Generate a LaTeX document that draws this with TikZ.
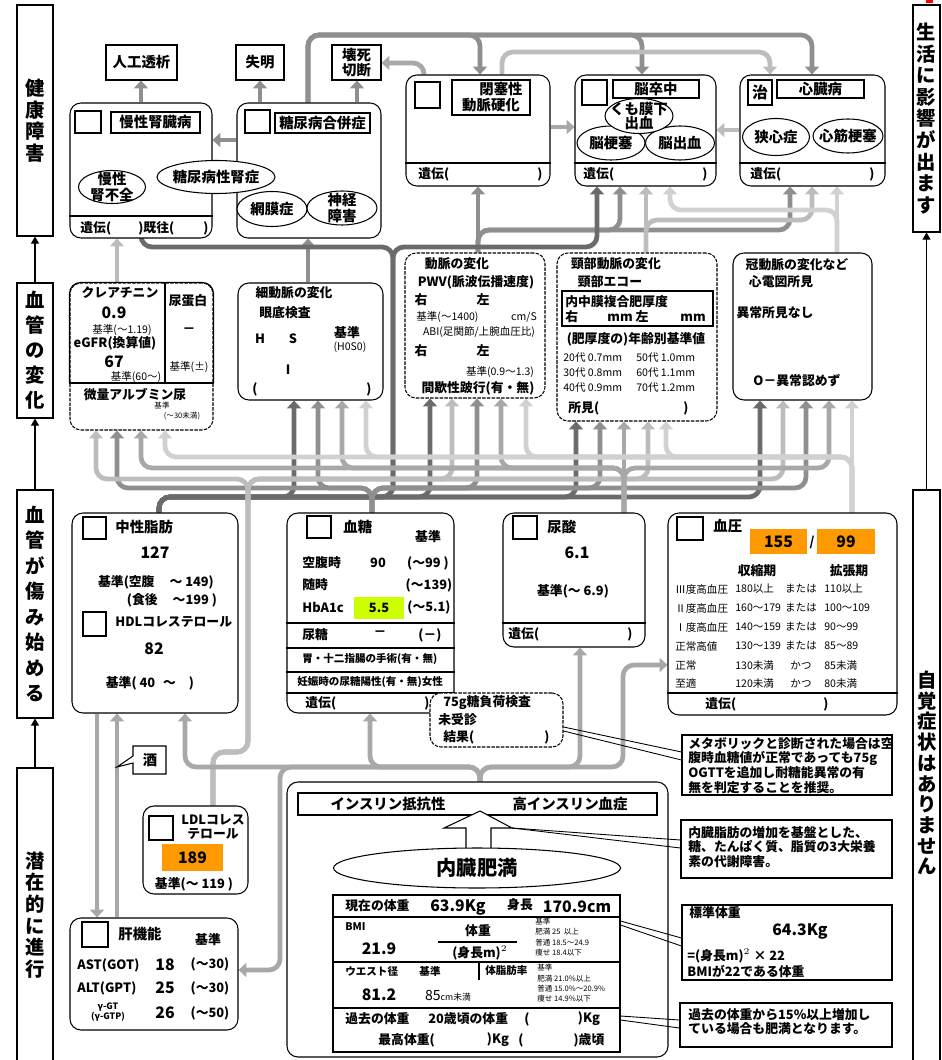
\documentclass[tikz,border=0pt]{standalone}
\usepackage{fontspec}
\setmainfont{Noto Sans CJK JP}
\usetikzlibrary{arrows.meta,fit,shapes.geometric,backgrounds}
\definecolor{pa}{gray}{0.42}
\definecolor{pb}{gray}{0.56}
\definecolor{pc}{gray}{0.66}
\definecolor{pd}{gray}{0.74}
\definecolor{pe}{gray}{0.82}
\definecolor{hlorange}{RGB}{255,153,0}
\definecolor{hlgreen}{RGB}{204,255,0}
\tikzset{
  box/.style={draw, rounded corners=0.22cm, line width=0.6pt, inner sep=0pt, fill=white},
  dbox/.style={box, dash pattern=on 2pt off 0.7pt},
  sqbox/.style={draw, line width=0.6pt, inner sep=0pt, fill=white},
  oval/.style={draw, ellipse, line width=0.6pt, inner sep=0pt, fill=white},
  txt/.style={inner sep=0pt, font=\fontsize{7.3}{8.3}\selectfont\bfseries},
  ttl/.style={inner sep=0pt, font=\fontsize{8.2}{9}\selectfont\bfseries},
  tsm/.style={inner sep=0pt, font=\fontsize{6}{6.8}\selectfont},
  tmini/.style={inner sep=0pt, font=\fontsize{4.3}{5}\selectfont},
  tbig/.style={inner sep=0pt, font=\fontsize{9}{10}\selectfont\bfseries},
  sidetxt/.style={inner sep=0pt, align=center, font=\fontsize{11}{12.3}\selectfont\bfseries},
  sidearr/.style={line width=0.6pt, -{Triangle[length=4pt,width=4.5pt]}},
  pipe/.style={line width=2.7pt, rounded corners=0.22cm, -{Triangle[length=4.5pt,width=8pt]}},
  tie/.style={line width=0.5pt},
}
\begin{document}
\begin{tikzpicture}[x=0.02cm, y=-0.02cm]
\useasboundingbox (0,0) rectangle (941,1060);

% side labels
\node[sqbox, fit={(17,5) (53,236)}] (hlth) {};
\node[sidetxt] (hlthtx) at (hlth.center) {健\\康\\障\\害};
\node[sqbox, fit={(17,283) (53,418)}] (vasc) {};
\node[sidetxt, font=\fontsize{11}{14.2}\selectfont\bfseries] (vasctx) at (vasc.center) {血\\管\\の\\変\\化};
\node[sqbox, fit={(17,490) (53,718)}] (dmg) {};
\node[sidetxt, font=\fontsize{11}{14.5}\selectfont\bfseries] (dmgtx) at (dmg.center) {血\\管\\が\\傷\\み\\始\\め\\る};
\node[sqbox, fit={(17,768) (53,1064)}] (lat) {};
\node[sidetxt] (lattx) at (35,915) {潜\\在\\的\\に\\進\\行};
\node[sqbox, fit={(913,5) (940,232)}] (life) {};
\node[sidetxt] (lifetx) at (life.center) {生\\活\\に\\影\\響\\が\\出\\ま\\す};
\node[sqbox, fit={(913,490) (940,1064)}] (nosym) {};
\node[sidetxt, font=\fontsize{11}{11.8}\selectfont\bfseries] (nosymtx) at (927,773) {自\\覚\\症\\状\\は\\あ\\り\\ま\\せ\\ん};
\draw[sidearr] (vasc.north) -- (hlth.south);
\draw[sidearr] (dmg.north) -- (vasc.south);
\draw[sidearr] (lat.north) -- (dmg.south);
\draw[sidearr] (nosym.north) -- (life.south);
\fill[red] (926,0) rectangle (933,3);

% outcomes
\node[sqbox, fit={(106,45) (177,80)}] (dial) {};
\node[ttl] (dialtx) at (dial.center) {人工透析};
\node[sqbox, fit={(236,45) (284,80)}] (blind) {};
\node[ttl] (blindtx) at (blind.center) {失明};
\node[sqbox, fit={(332,45) (381,80)}] (necro) {};
\node[ttl, align=center] (necrotx) at (necro.center) {壊死\\切断};

% chronic kidney disease
\node[box, fit={(70,103) (212,238)}] (ckd) {};
\node[sqbox, fit={(75,111) (101,133)}] (ckdchk) {};
\node[sqbox, fit={(111,112) (200,133)}] (ckdttl) {};
\node[ttl] (ckdname) at (ckdttl.center) {慢性腎臓病};
\draw[line width=0.6pt] (ckd.west |- 0,216) -- (ckd.east |- 0,216);
\node[oval, minimum width=1.34cm, minimum height=0.66cm] (ckdfail) at (112,187) {};
\node[ttl, align=center] (ckdfailtx) at (ckdfail.center) {慢性\\腎不全};
\node[txt, anchor=west] (ckdgen) at (80,228) {遺伝(};
\node[txt, anchor=west] (ckdhis) at (138,228) {)既往(};
\node[txt] (ckdend) at (206,228) {)};

% diabetic complications
\node[box, fit={(237,103) (381,238)}] (dm) {};
\node[sqbox, fit={(245,110) (270,133)}] (dmchk) {};
\node[sqbox, fit={(275,113) (370,133)}] (dmttl) {};
\node[ttl] (dmname) at (dmttl.center) {糖尿病合併症};
\node[oval, minimum width=2.36cm, minimum height=0.66cm] (dmneph) at (216,177) {};
\node[ttl] (dmnephtx) at (dmneph.center) {糖尿病性腎症};
\node[oval, minimum width=1.4cm, minimum height=0.7cm] (dmret) at (272,209) {};
\node[ttl] (dmrettx) at (dmret.center) {網膜症};
\node[oval, minimum width=1.4cm, minimum height=0.68cm] (dmneu) at (342,208) {};
\node[ttl, align=center] (dmneutx) at (dmneu.center) {神経\\障害};

% arteriosclerosis obliterans
\node[box, fit={(406,75) (550,186)}] (ao) {};
\node[sqbox, fit={(415,82) (440,108)}] (aochk) {};
\node[sqbox, fit={(452,80) (530,115)}] (aottl) {};
\node[ttl, align=center] (aoname) at (aottl.center) {\hspace{4mm}閉塞性\\動脈硬化};
\draw[line width=0.6pt] (ao.west |- 0,163) -- (ao.east |- 0,163);
\node[txt, anchor=west] (aogen) at (418,174) {遺伝(};
\node[txt] (aoend) at (540,174) {)};

% stroke
\node[box, fit={(575,75) (716,186)}] (st) {};
\node[sqbox, fit={(582,80) (607,105)}] (stchk) {};
\node[sqbox, fit={(613,80) (699,98)}] (stttl) {};
\node[ttl] (stname) at (stttl.center) {脳卒中};
\node[oval, minimum width=1.36cm, minimum height=0.68cm] (stinf) at (611,143) {};
\node[ttl] (stinftx) at (stinf.center) {脳梗塞};
\node[oval, minimum width=1.38cm, minimum height=0.68cm] (stbleed) at (680,143) {};
\node[ttl] (stbleedtx) at (stbleed.center) {脳出血};
\node[oval, minimum width=1.36cm, minimum height=0.7cm] (stsah) at (639,116) {};
\node[ttl, align=center, font=\fontsize{8.2}{8.2}\selectfont\bfseries] (stsahtx) at (stsah.center) {くも膜下\\出血};
\draw[line width=0.6pt] (st.west |- 0,163) -- (st.east |- 0,163);
\node[txt, anchor=west] (stgen) at (583,174) {遺伝(};
\node[txt] (stend) at (705,174) {)};

% heart disease
\node[box, fit={(740,75) (885,186)}] (hd) {};
\node[sqbox, fit={(748,80) (772,105)}] (hdchk) {};
\node[tbig] (hdchktx) at (hdchk.center) {治};
\node[sqbox, fit={(777,80) (864,98)}] (hdttl) {};
\node[ttl] (hdname) at (hdttl.center) {心臓病};
\node[oval, minimum width=1.34cm, minimum height=0.74cm] (hdang) at (776,137) {};
\node[ttl] (hdangtx) at (hdang.center) {狭心症};
\node[oval, minimum width=1.4cm, minimum height=0.68cm] (hdmi) at (848,136) {};
\node[ttl] (hdmitx) at (hdmi.center) {心筋梗塞};
\draw[line width=0.6pt] (hd.west |- 0,163) -- (hd.east |- 0,163);
\node[txt, anchor=west] (hdgen) at (750,174) {遺伝(};
\node[txt] (hdend) at (872,174) {)};

% creatinine
\node[dbox, fit={(70,283) (213,430)}] (crea) {};
\draw[line width=0.6pt, rounded corners=0.22cm] (crea.west |- 0,383) -- (crea.north west) -- (crea.north east) -- (crea.east |- 0,383);
\draw[line width=0.6pt] (crea.west |- 0,383) -- (crea.east |- 0,383);
\draw[line width=0.6pt] (165,0 |- crea.north) -- (165,383);
\node[txt] (creaname) at (120,293) {クレアチニン};
\node[tbig] (creaval) at (114,313) {0.9};
\node[tsm] (crearef) at (122,330) {基準(～1.19)};
\node[txt] (egfr) at (115,343) {eGFR(換算値)};
\node[tbig] (egfrval) at (114,362) {67};
\node[tsm] (egfrref) at (136,377) {基準(60～)};
\node[txt] (prot) at (188,301) {尿蛋白};
\node[txt] (protval) at (189,331) {－};
\node[tsm] (protref) at (189,367) {基準(±)};
\node[txt] (malb) at (135,395) {微量アルブミン尿};
\node[tmini] (malbref) at (162,406) {基準};
\node[tmini] (malbrange) at (182,416) {(～30未満)};

% fundus
\node[box, fit={(238,283) (383,400)}] (hos) {};
\node[txt] (hosname) at (294,293) {細動脈の変化};
\node[txt] (hosexam) at (285,313) {眼底検査};
\node[txt] (hosh) at (260,339) {H};
\node[txt] (hoss) at (293,339) {S};
\node[txt] (hosref) at (347,333) {基準};
\node[tsm] (hosrefv) at (350,347) {(H0S0)};
\node[txt] (hosi) at (288,370) {I};
\node[txt] (hoso) at (255,389) {(};
\node[txt] (hosc) at (369,389) {)};

% arterial stiffness
\node[dbox, fit={(405,253) (545,398)}] (art) {};
\node[txt] (artname) at (457,264) {動脈の変化};
\node[txt] (artpwv) at (476,282) {PWV(脈波伝播速度)};
\node[txt] (artr) at (421,300) {右};
\node[txt] (artl) at (483,300) {左};
\node[tsm, anchor=west] (artref) at (416,317) {基準(～1400)};
\node[tsm] (artunit) at (524,317) {cm/S};
\node[tsm] (artabi) at (479,332) {ABI(足関節/上腕血圧比)};
\node[txt] (artr2) at (421,351) {右};
\node[txt] (artl2) at (483,351) {左};
\node[tsm] (artref2) at (500,372) {基準(0.9～1.3)};
\node[txt] (artclaud) at (478,388) {間歇性跛行(有・無)};

% carotid
\node[dbox, fit={(557,253) (717,421)}] (car) {};
\node[txt] (carname) at (616,264) {頸部動脈の変化};
\node[txt] (carecho) at (610,282) {頸部エコー};
\node[sqbox, fit={(562,291) (713,326)}] (carimt) {};
\node[txt, anchor=west] (carimttx) at (565,302) {内中膜複合肥厚度};
\node[txt, anchor=west] (carr) at (565,317) {右};
\node[txt] (carmm1) at (620,318) {mm};
\node[txt] (carl) at (642,317) {左};
\node[txt] (carmm2) at (693,318) {mm};
\node[txt] (carage) at (636,339) {(肥厚度の)年齢別基準値};
\node[tsm, anchor=west] (car20) at (563,358) {20代 0.7mm};
\node[tsm, anchor=west] (car50) at (636,358) {50代 1.0mm};
\node[tsm, anchor=west] (car30) at (563,373) {30代 0.8mm};
\node[tsm, anchor=west] (car60) at (636,373) {60代 1.1mm};
\node[tsm, anchor=west] (car40) at (563,388) {40代 0.9mm};
\node[tsm, anchor=west] (car70) at (636,388) {70代 1.2mm};
\node[txt, anchor=west] (carobs) at (568,408) {所見(};
\node[txt] (carend) at (686,408) {)};

% coronary
\node[box, fit={(733,253) (872,400)}] (cor) {};
\node[txt] (corname) at (797,265) {冠動脈の変化など};
\node[txt] (corecg) at (781,282) {心電図所見};
\node[txt] (cornone) at (775,313) {異常所見なし};
\node[txt] (corzero) at (797,381) {O－異常認めず};

% triglyceride / HDL
\node[box, fit={(72,513) (238,713)}] (tg) {};
\node[sqbox, fit={(83,517) (106,539)}] (tgchk) {};
\node[ttl, anchor=west] (tgname) at (115,527) {中性脂肪};
\node[tbig] (tgval) at (155,553) {127};
\node[txt] (tgref) at (156,582) {基準(空腹\hspace{3mm}～ 149)};
\node[txt] (tgref2) at (172,600) {(食後\hspace{3mm}～199 )};
\node[sqbox, fit={(83,612) (106,636)}] (hdlchk) {};
\node[txt, anchor=west] (hdlname) at (115,622) {HDLコレステロール};
\node[tbig] (hdlval) at (154,649) {82};
\node[txt] (hdlref) at (150,683) {基準( 40 \hspace{1mm}～\hspace{2mm} )};

% blood glucose
\node[box, fit={(287,513) (454,713)}] (bs) {};
\node[sqbox, fit={(307,516) (331,538)}] (bschk) {};
\node[ttl, anchor=west] (bsname) at (343,527) {血糖};
\node[txt] (bsref) at (428,537) {基準};
\node[txt, anchor=west] (bsfast) at (302,563) {空腹時};
\node[txt] (bsfastv) at (378,563) {90};
\node[txt] (bsfastr) at (428,563) {(～99 )};
\node[txt, anchor=west] (bsrand) at (302,585) {随時};
\node[txt] (bsrandr) at (429,585) {(～139)};
\node[txt, anchor=west] (bsa1c) at (302,607) {HbA1c};
\node[fill=hlgreen, inner sep=0pt, fit={(354,597) (404,619)}] (bsa1cbg) {};
\node[txt] (bsa1cv) at (bsa1cbg.center) {5.5};
\node[txt] (bsa1cr) at (429,607) {(～5.1)};
\draw[line width=0.6pt] (bs.west |- 0,623) -- (bs.east |- 0,623);
\node[txt, anchor=west] (bsurine) at (302,635) {尿糖};
\node[txt] (bsurinev) at (380,634) {－};
\node[txt] (bsuriner) at (430,635) {(－)};
\draw[line width=0.6pt] (bs.west |- 0,648) -- (bs.east |- 0,648);
\node[tsm, anchor=west, font=\fontsize{6}{6.8}\selectfont\bfseries] (bsop) at (302,659) {胃・十二指腸の手術(有・無)};
\draw[line width=0.6pt] (bs.west |- 0,672) -- (bs.east |- 0,672);
\node[tsm, anchor=west, font=\fontsize{6}{6.8}\selectfont\bfseries] (bspreg) at (297,682) {妊娠時の尿糖陽性(有・無)女性};
\draw[line width=0.6pt] (bs.west |- 0,693) -- (bs.east |- 0,693);
\node[txt, anchor=west] (bsgen) at (305,703) {遺伝(};
\node[txt] (bsend) at (427,703) {)};

% glucose tolerance test
\node[dbox, fit={(430,693) (563,747)}] (ogtt) {};
\node[txt, anchor=west] (ogttname) at (443,703) {75g糖負荷検査};
\node[txt, anchor=west] (ogttno) at (438,720) {未受診};
\node[txt, anchor=west] (ogttres) at (443,737) {結果(};
\node[txt] (ogttend) at (547,737) {)};

% uric acid
\node[box, fit={(503,513) (645,647)}] (ua) {};
\node[sqbox, fit={(513,516) (537,539)}] (uachk) {};
\node[ttl, anchor=west] (uaname) at (547,527) {尿酸};
\node[tbig] (uaval) at (577,553) {6.1};
\node[txt] (uaref) at (573,591) {基準(～ 6.9)};
\draw[line width=0.6pt] (ua.west |- 0,623) -- (ua.east |- 0,623);
\node[txt, anchor=west] (uagen) at (508,634) {遺伝(};
\node[txt] (uaend) at (630,634) {)};

% blood pressure
\node[box, fit={(668,513) (897,715)}] (bp) {};
\node[sqbox, fit={(677,517) (703,540)}] (bpchk) {};
\node[ttl, anchor=west] (bpname) at (713,526) {血圧};
\node[fill=hlorange, inner sep=0pt, fit={(750,529) (807,554)}] (bpsys) {};
\node[tbig] (bpsysv) at (bpsys.center) {155};
\node[txt] (bpslash) at (812,542) {/};
\node[fill=hlorange, inner sep=0pt, fit={(817,529) (875,554)}] (bpdia) {};
\node[tbig] (bpdiav) at (bpdia.center) {99};
\node[txt] (bpsyshd) at (757,571) {収縮期};
\node[txt] (bpdiahd) at (849,571) {拡張期};
\foreach \yy/\la/\lb/\lc/\ld in {589/Ⅲ度高血圧/180以上/または/110以上,
    608/Ⅱ度高血圧/160～179/または/100～109,
    627/Ⅰ度高血圧/140～159/または/90～99,
    646/正常高値/130～139/または/85～89,
    665/正常/130未満/かつ/85未満,
    683/至適/120未満/かつ/80未満}{
  \node[tsm, anchor=west] (bpa\yy) at (675,\yy) {\la};
  \node[tsm, anchor=west] (bpb\yy) at (735,\yy) {\lb};
  \node[tsm] (bpc\yy) at (801,\yy) {\lc};
  \node[tsm, anchor=west] (bpd\yy) at (824,\yy) {\ld};
}
\draw[line width=0.6pt] (bp.west |- 0,693) -- (bp.east |- 0,693);
\node[txt, anchor=west] (bpgen) at (705,704) {遺伝(};
\node[txt] (bpend) at (826,704) {)};

% LDL
\node[box, fit={(143,806) (248,894)}] (ldl) {};
\node[sqbox, fit={(149,816) (173,840)}] (ldlchk) {};
\node[txt, align=center, font=\fontsize{7.3}{7.6}\selectfont\bfseries] (ldlname) at (213,827) {LDLコレス\\テロール};
\node[fill=hlorange, inner sep=0pt, fit={(162,844) (223,871)}] (ldlbg) {};
\node[tbig] (ldlval) at (ldlbg.center) {189};
\node[txt] (ldlref) at (194,884) {基準(～ 119 )};

% alcohol
\draw[line width=0.6pt, fill=white] (133,746) -- (166,746) -- (166,774) -- (133,774) -- (133,763) -- (117,767) -- (133,756) -- cycle;
\node[ttl] (sake) at (150,760) {酒};

% liver
\node[box, fit={(70,918) (238,1030)}] (liver) {};
\node[sqbox, fit={(82,922) (108,947)}] (liverchk) {};
\node[ttl, anchor=west] (livername) at (118,934) {肝機能};
\node[txt] (liverref) at (208,940) {基準};
\node[txt, anchor=west] (ast) at (77,965) {AST(GOT)};
\node[tbig] (astv) at (165,965) {18};
\node[txt] (astr) at (210,964) {(～30)};
\node[txt, anchor=west] (alt) at (77,988) {ALT(GPT)};
\node[tbig] (altv) at (165,988) {25};
\node[txt] (altr) at (210,988) {(～30)};
\node[tsm, align=center, font=\fontsize{5}{5.8}\selectfont\bfseries] (ggt) at (108,1012) {γ-GT\\(γ-GTP)};
\node[tbig] (ggtv) at (165,1013) {26};
\node[txt] (ggtr) at (210,1013) {(～50)};

% visceral obesity
\node[box, fit={(287,782) (668,1057)}] (metab) {};
\node[sqbox, fit={(298,793) (657,815)}] (insul) {};
\node[ttl] (insres) at (388,804) {インスリン抵抗性};
\node[ttl] (hyperins) at (570,804) {高インスリン血症};
\draw[line width=0.6pt, fill=white] (480,811) -- (512,828) -- (491,828) -- (491,852) -- (466,852) -- (466,828) -- (444,828) -- cycle;
\coordinate (uptip) at (512,828);
\node[oval, minimum width=5.74cm, minimum height=0.8cm] (visc) at (477,868) {};
\node[inner sep=0pt, font=\fontsize{11.5}{12}\selectfont\bfseries] (visctx) at (visc.center) {内臓肥満};
\node[sqbox, fit={(333,895) (620,1052)}] (tbl) {};
\draw[line width=0.6pt] (tbl.west |- 0,917) -- (tbl.east |- 0,917);
\draw[line width=0.6pt] (tbl.west |- 0,962) -- (tbl.east |- 0,962);
\draw[line width=0.6pt] (tbl.west |- 0,1008) -- (tbl.east |- 0,1008);
\node[txt, anchor=west] (nowwt) at (345,906) {現在の体重};
\node[tbig] (nowwtv) at (458,907) {63.9Kg};
\node[txt] (height) at (520,905) {身長};
\node[tbig] (heightv) at (577,907) {170.9cm};
\node[tsm, anchor=west, font=\fontsize{6}{6.8}\selectfont\bfseries] (bmi) at (345,927) {BMI};
\node[tbig] (bmiv) at (379,949) {21.9};
\node[txt] (bmitop) at (478,931) {体重};
\draw[line width=0.6pt] (438,942) -- (517,942);
\node[txt] (bmibot) at (480,953) {(身長m)$^2$};
\node[tmini, anchor=west] (bmir0) at (535,922) {基準};
\node[tmini, anchor=west] (bmir1) at (535,932) {肥満 25 \ 以上};
\node[tmini, anchor=west] (bmir2) at (535,943) {普通 18.5～24.9};
\node[tmini, anchor=west] (bmir3) at (535,953) {痩せ 18.4以下};
\node[tsm, anchor=west, font=\fontsize{6}{6.8}\selectfont\bfseries] (waist) at (345,971) {ウエスト径};
\node[tsm, font=\fontsize{6}{6.8}\selectfont\bfseries] (waistref) at (430,971) {基準};
\draw[line width=0.6pt] (479,962) -- (479,980);
\node[tsm, anchor=west, font=\fontsize{6}{6.8}\selectfont\bfseries] (fat) at (485,971) {体脂肪率};
\node[tmini, anchor=west] (fatr0) at (537,968) {基準};
\node[tmini, anchor=west] (fatr1) at (537,979) {肥満 21.0\%以上};
\node[tmini, anchor=west] (fatr2) at (537,989) {普通 15.0\%～20.9\%};
\node[tmini, anchor=west] (fatr3) at (537,999) {痩せ 14.9\%以下};
\node[tbig] (waistv) at (379,995) {81.2};
\node[inner sep=0pt] (waistlim) at (448,996) {{\fontsize{8}{9}\selectfont 85}{\fontsize{5}{6}\selectfont cm未満}};
\node[txt, anchor=west] (pastwt) at (345,1019) {過去の体重};
\node[txt, anchor=west] (wt20) at (428,1019) {20歳頃の体重};
\node[txt] (wt20o) at (527,1019) {(};
\node[txt] (wt20c) at (589,1019) {)Kg};
\node[txt, anchor=west] (maxwt) at (378,1040) {最高体重(};
\node[txt] (maxwtc) at (498,1040) {)Kg};
\node[txt] (maxageo) at (521,1040) {(};
\node[txt] (maxagec) at (589,1040) {)歳頃};

% notes
\node[sqbox, fit={(682,735) (892,795)}] (note1) {};
\node[txt, anchor=north west, align=left] (note1tx) at (688,737) {メタボリックと診断された場合は空\\腹時血糖値が正常であっても75g\\OGTTを追加し耐糖能異常の有\\無を判定することを推奨。};
\node[sqbox, fit={(681,820) (892,878)}] (note2) {};
\node[txt, anchor=north west, align=left] (note2tx) at (688,826) {内臓脂肪の増加を基盤とした、\\糖、たんぱく質、脂質の3大栄養\\素の代謝障害。};
\node[sqbox, fit={(682,905) (892,980)}] (note3) {};
\node[txt, anchor=west] (note3a) at (689,913) {標準体重};
\node[tbig] (note3b) at (800,931) {64.3Kg};
\node[txt, anchor=west] (note3c) at (687,956) {=(身長m)$^2$ × 22};
\node[txt, anchor=west] (note3d) at (687,971) {BMIが22である体重};
\node[sqbox, fit={(680,1003) (892,1047)}] (note4) {};
\node[txt, anchor=north west, align=left] (note4tx) at (688,1008) {過去の体重から15\%以上増加し\\ている場合も肥満となります。};
\draw[tie] (ogtt.east |- 0,727) -- (note1.west |- 0,752);
\draw[tie] (ogtt.east |- 0,731) -- (note1.west |- 0,760);
\draw[tie] (uptip) -- (note2.west |- 0,840);
\draw[tie] (uptip) -- (note2.west |- 0,848);
\draw[tie] (tbl.east |- 0,921) -- (note3.west |- 0,938);
\draw[tie] (tbl.east |- 0,925) -- (note3.west |- 0,946);
\draw[tie] (tbl.east |- 0,1016) -- (note4.west |- 0,1020);
\draw[tie] (tbl.east |- 0,1020) -- (note4.west |- 0,1028);

\begin{pgfonlayer}{background}
  % outcomes
  \draw[pipe,pb] (ckd.north -| 141,0) -- (dial.south -| 141,0);
  \draw[pipe,pb] (dm.north -| 260,0) -- (blind.south -| 260,0);
  \draw[pipe,pb] (dm.north -| 357,0) -- (necro.south -| 357,0);
  \draw[pipe,pc] (ao.north -| 424,0) -- (424,63) -- (necro.east |- 0,63);
  \foreach \tx/\tn in {480/ao,642/st,812/hd}
    \draw[pipe,pb] (dm.north -| 308,0) -- (308,35) -- (\tx,35) -- (\tn.north -| \tx,0);
  \draw[pipe,pd] (ao.north -| 502,0) -- (502,52) -- (770,52) -- (hd.north -| 770,0);
  \draw[pipe,pc] (ao.east |- 0,127) -- (st.west |- 0,127);
  \draw[pipe,pd] (hd.west |- 0,130) -- (st.east |- 0,130);
  \draw[pipe,pb] (dm.west |- 0,140) -- (ckd.east |- 0,140);
  % vessel changes -> diseases
  \draw[pipe,pd] (crea.north -| 117,0) -- (ckd.south -| 117,0);
  \draw[pipe,pb] (hos.north -| 308,0) -- (dm.south -| 308,0);
  \draw[pipe,pb] (art.north -| 478,0) -- (ao.south -| 478,0);
  \draw[pipe,pb] (art.north -| 478,0) -- (478,230) -- (620,230) -- (st.south -| 620,0);
  \draw[pipe,pb] (art.north -| 478,0) -- (478,230) -- (790,230) -- (hd.south -| 790,0);
  \draw[pipe,pd] (car.north -| 646,0) -- (st.south -| 646,0);
  \draw[pipe,pd] (car.north -| 646,0) -- (646,220) -- (812,220) -- (hd.south -| 812,0);
  \draw[pipe,pe] (cor.north -| 837,0) -- (hd.south -| 837,0);
  \draw[pipe,pe] (cor.north -| 837,0) -- (837,210) -- (670,210) -- (st.south -| 670,0);
  % risk factors -> vessel changes
  \draw[pipe,pa] (tg.north -| 159,0) -- (159,497) -- (393,497) -- (393,247) -- (141,247) -- (ckd.south -| 141,0);
  \draw[pipe,pa] (tg.north -| 159,0) -- (159,497) -- (393,497) -- (393,247) -- (597,247) -- (st.south -| 597,0);
  \foreach \tx/\tn in {294/hos,430/art,576/car,760/cor}
    \draw[pipe,pa] (tg.north -| 159,0) -- (159,497) -- (\tx,497) -- (\tn.south -| \tx,0);
  \foreach \tx/\tn in {117/crea,318/hos,477/art,600/car,806/cor}
    \draw[pipe,pb] (bs.north -| 372,0) -- (372,488) -- (\tx,488) -- (\tn.south -| \tx,0);
  \foreach \tx/\tn in {96/crea,452/art,648/car,783/cor}
    \draw[pipe,pd] (ldl.north -| 213,0) -- (213,752) -- (248,752) -- (248,479) -- (\tx,479) -- (\tn.south -| \tx,0);
  \foreach \tx/\tn in {141/crea,342/hos,501/art,829/cor}
    \draw[pipe,pc] (ua.north -| 624,0) -- (624,468) -- (\tx,468) -- (\tn.south -| \tx,0);
  \draw[pipe,pc] (ua.north -| 624,0) -- (car.south -| 624,0);
  \foreach \tx/\tn in {165/crea,366/hos,526/art,666/car}
    \draw[pipe,pe] (bp.north -| 852,0) -- (852,457) -- (\tx,457) -- (\tn.south -| \tx,0);
  \draw[pipe,pe] (bp.north -| 852,0) -- (cor.south -| 852,0);
  % visceral obesity -> risk factors
  \draw[pipe,pc] (metab.north -| 480,0) -- (480,767) -- (185,767) -- (tg.south -| 185,0);
  \draw[pipe,pc] (metab.north -| 480,0) -- (480,767) -- (280,767) -- (280,970) -- (liver.east |- 0,970);
  \draw[pipe,pc] (metab.north -| 480,0) -- (480,767) -- (370,767) -- (bs.south -| 370,0);
  \draw[pipe,pc] (metab.north -| 480,0) -- (480,767) -- (580,767) -- (ua.south -| 580,0);
  \draw[pipe,pc] (metab.north -| 480,0) -- (480,767) -- (623,767) -- (623,665) -- (bp.west |- 0,665);
  \draw[pipe,pc] (tg.south -| 97,0) -- (liver.north -| 97,0);
  \draw[pipe,pc] (liver.north -| 117,0) -- (tg.south -| 117,0);
\end{pgfonlayer}
\end{tikzpicture}
\end{document}
